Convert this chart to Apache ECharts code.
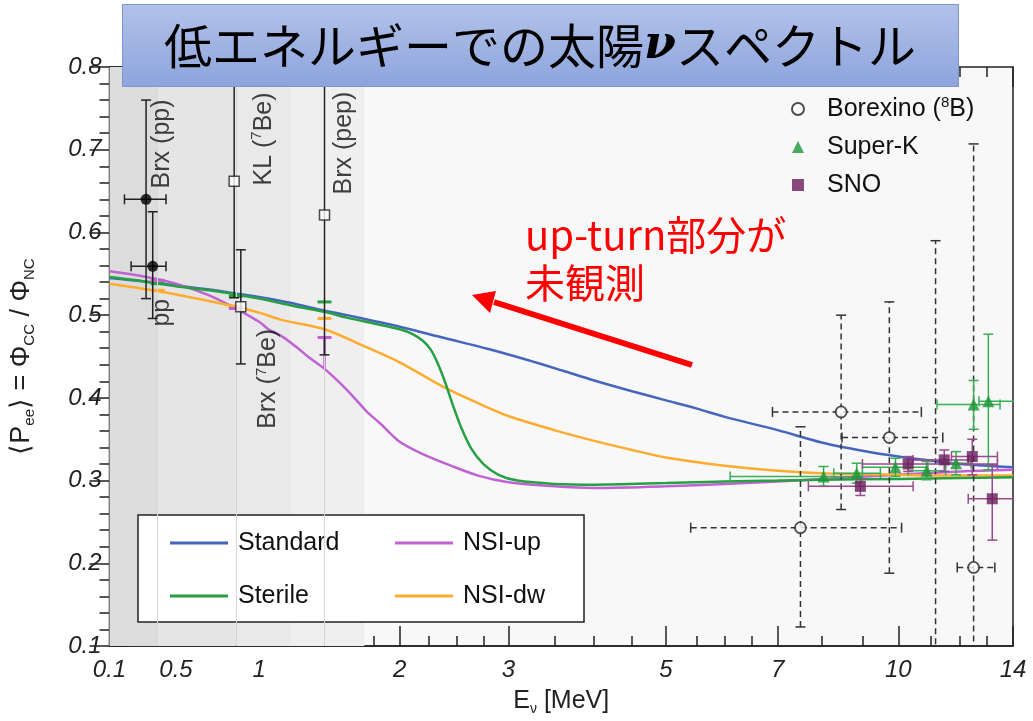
<!DOCTYPE html>
<html>
<head>
<meta charset="utf-8">
<script src="https://cdn.jsdelivr.net/npm/echarts@6/dist/echarts.min.js"></script>
<style>
  html, body { margin: 0; padding: 0; background: #fff; }
  #chart { width: 1033px; height: 721px; }
</style>
</head>
<body>
<div id="chart"></div>
<script>
// ---------------------------------------------------------------------------
// Energy axis: linear below 1 MeV, compressed above (knots of the warped scale)
const axisKnotE = [0.1, 1, 1.2, 1.4, 1.6, 1.8, 2, 2.25, 2.5, 2.75, 3, 3.5, 4, 4.5, 5,
                   5.5, 6, 6.5, 7, 8, 9, 10, 11, 12, 13, 14];
const axisKnotU = [0, 150, 181, 210, 238, 265, 291, 320, 348, 375, 400, 446, 486, 524, 558,
                   589, 617, 644, 670, 714, 755, 791, 824, 853, 880, 906];

// tick labels / tick energies
const majorTickE = [0.1, 0.5, 1, 2, 3, 5, 7, 10, 14];
const majorTickLabels = ['0.1', '0.5', '1', '2', '3', '5', '7', '10', '14'];
const minorTickE = [0.2, 0.3, 0.4, 0.6, 0.7, 0.8, 0.9, 1.2, 1.4, 1.6, 1.8, 2.25, 2.5, 2.75,
                    3.5, 4, 4.5, 5.5, 6, 6.5, 8, 9, 11, 12, 13];

// ---------------------------------------------------------------------------
// Model curves: survival probability vs neutrino energy (MeV)
const standardE = [0.1, 0.3, 0.5, 0.7, 0.9, 1.0, 1.2, 1.4, 1.6, 1.8, 2.0, 2.4, 2.8, 3.2, 3.6, 4.0,
                   4.5, 5, 5.5, 6, 7, 8, 9, 10, 11, 12, 13, 14];
const standardP = [0.545, 0.541, 0.536, 0.531, 0.525, 0.522, 0.515, 0.507, 0.500, 0.493, 0.486, 0.472,
                   0.459, 0.446, 0.433, 0.421, 0.408, 0.397, 0.387, 0.377, 0.361, 0.346, 0.336, 0.329,
                   0.324, 0.320, 0.318, 0.316];

const sterileE = [0.1, 0.3, 0.5, 0.7, 0.86, 1.0, 1.2, 1.44, 1.6, 1.8, 2.0, 2.1, 2.2, 2.27, 2.33, 2.4,
                  2.47, 2.55, 2.64, 2.75, 2.9, 3.1, 3.5, 4, 5, 6, 7, 8, 10, 12, 14];
const sterileP = [0.546, 0.541, 0.535, 0.530, 0.525, 0.520, 0.512, 0.504, 0.497, 0.490, 0.483, 0.478,
                  0.469, 0.458, 0.442, 0.418, 0.390, 0.362, 0.338, 0.320, 0.307, 0.300, 0.296, 0.295,
                  0.297, 0.299, 0.300, 0.301, 0.302, 0.303, 0.304];

const nsiUpE = [0.1, 0.3, 0.5, 0.7, 0.86, 1.0, 1.06, 1.15, 1.24, 1.33, 1.44, 1.55, 1.65, 1.75, 1.85,
                2.0, 2.2, 2.45, 2.7, 3.0, 3.5, 4, 5, 6, 7, 8, 10, 12, 14];
const nsiUpP = [0.553, 0.547, 0.538, 0.524, 0.508, 0.492, 0.483, 0.474, 0.462, 0.449, 0.435, 0.418,
                0.401, 0.383, 0.369, 0.347, 0.332, 0.318, 0.306, 0.298, 0.293, 0.291, 0.293, 0.296,
                0.299, 0.302, 0.307, 0.311, 0.313];

const nsiDwE = [0.1, 0.36, 0.6, 0.84, 1.0, 1.15, 1.44, 1.75, 2.0, 2.4, 2.8, 3.0, 3.5, 4, 4.5, 5, 6,
                7, 8, 10, 12, 14];
const nsiDwP = [0.538, 0.530, 0.521, 0.511, 0.503, 0.494, 0.483, 0.461, 0.443, 0.412, 0.388, 0.378,
                0.361, 0.348, 0.337, 0.328, 0.318, 0.312, 0.309, 0.307, 0.306, 0.306];

// Model predictions averaged over pp / 7Be / pep lines: [E, P, P at curve]
const sterileAvg = [[0.39, 0.538, null], [0.86, 0.523, null], [1.44, 0.516, null]];
const nsiUpAvg   = [[0.39, 0.542, null], [0.86, 0.508, null], [1.44, 0.473, 0.435]];
const nsiDwAvg   = [[0.39, 0.530, null], [0.86, 0.511, null], [1.44, 0.496, null]];

// ---------------------------------------------------------------------------
// Measurements: [E, P, E_low, E_high, P_low, P_high]
const ppPoints = [
  [0.32, 0.640, 0.19, 0.44, 0.520, 0.760],
  [0.36, 0.559, 0.23, 0.44, 0.496, 0.625]
];
const lineSourcePoints = [
  [0.85, 0.662, null, null, 0.521, 0.84],   // KamLAND 7Be
  [0.89, 0.510, null, null, 0.441, 0.579],  // Borexino 7Be
  [1.44, 0.621, null, null, 0.452, 0.84]    // Borexino pep
];
const borexino8B = [
  [7.52, 0.243, 5.4, 10.1, 0.123, 0.365],
  [8.48, 0.383, 6.9, 10.7, 0.265, 0.500],
  [9.75, 0.352, 8.5, 11.4, 0.188, 0.516],
  [11.15, 0.02, null, null, -0.2, 0.590],
  [12.5, 0.195, 11.9, 13.3, -0.1, 0.707]
];
const superK = [
  [8.05, 0.305, 6.1, 9.0, 0.293, 0.317],
  [8.86, 0.309, 8.3, 9.5, 0.297, 0.321],
  [9.92, 0.316, 9.0, 10.9, 0.305, 0.327],
  [10.86, 0.312, 10.3, 11.5, 0.301, 0.323],
  [11.86, 0.321, 11.5, 12.4, 0.307, 0.335],
  [12.5, 0.392, 11.2, 13.5, 0.362, 0.421],
  [13.05, 0.396, 12.7, 14.5, 0.313, 0.477]
];
const sno = [
  [8.95, 0.293, 7.7, 10.45, 0.282, 0.302],
  [10.3, 0.320, 9.0, 13.4, 0.311, 0.329],
  [11.45, 0.325, 10.45, 12.3, 0.311, 0.337],
  [12.45, 0.329, 11.7, 13.4, 0.307, 0.350],
  [13.2, 0.278, 12.3, 14.5, 0.228, 0.319]
];

// Energy windows of the low-energy measurements (shaded bands)
const bandEdgesE = [0.1, 0.39, 0.86, 1.2, 1.73];

// ---------------------------------------------------------------------------
function toAxis(E) {
  const ke = axisKnotE, ku = axisKnotU, n = ke.length - 1;
  if (E <= ke[0]) return ku[0] + (E - ke[0]) * (ku[1] - ku[0]) / (ke[1] - ke[0]);
  for (let i = 1; i <= n; i++) {
    if (E <= ke[i]) {
      const t = (E - ke[i - 1]) / (ke[i] - ke[i - 1]);
      return ku[i - 1] + t * (ku[i] - ku[i - 1]);
    }
  }
  return ku[n] + (E - ke[n]) * (ku[n] - ku[n - 1]) / (ke[n] - ke[n - 1]);
}
const axisMax = toAxis(14);
const curve = (es, ps) => es.map((e, i) => [toAxis(e), ps[i]]);
const ax = v => (v == null ? NaN : toAxis(v));
const errData = arr => arr.map(r => [toAxis(r[0]), r[1], ax(r[2]), ax(r[3]),
                                     r[4] == null ? NaN : r[4], r[5] == null ? NaN : r[5]]);

const SANS = '"Liberation Sans", Arial, Helvetica, sans-serif';
const JP = '"Noto Sans CJK JP", "Noto Sans", sans-serif';

const C_STD = '#4565bf', C_STE = '#27a043', C_UP = '#c062d2', C_DW = '#ffab2e';
const C_SK = '#1a9636', C_SK_ERR = '#3aae55', C_SNO = '#6a1d5c', C_SNO_ERR = '#9a4a8d';

function errorBars(color, dashed, cap) {
  return function (params, api) {
    const x = api.value(0), y = api.value(1);
    const xl = api.value(2), xh = api.value(3), yl = api.value(4), yh = api.value(5);
    const line = { stroke: color, lineWidth: 1.5, lineDash: dashed ? [6, 4] : null };
    const capStyle = { stroke: color, lineWidth: 1.5 };
    const kids = [];
    const seg = (a, b, s) => kids.push({ type: 'line', shape: { x1: a[0], y1: a[1], x2: b[0], y2: b[1] }, style: s });
    if (!isNaN(yl) && !isNaN(yh)) {
      const pl = api.coord([x, yl]), ph = api.coord([x, yh]);
      seg(pl, ph, line);
      seg([pl[0] - cap, pl[1]], [pl[0] + cap, pl[1]], capStyle);
      seg([ph[0] - cap, ph[1]], [ph[0] + cap, ph[1]], capStyle);
    }
    if (!isNaN(xl) && !isNaN(xh)) {
      const pl = api.coord([xl, y]), ph = api.coord([xh, y]);
      seg(pl, ph, line);
      seg([pl[0], pl[1] - cap], [pl[0], pl[1] + cap], capStyle);
      seg([ph[0], ph[1] - cap], [ph[0], ph[1] + cap], capStyle);
    }
    return { type: 'group', children: kids };
  };
}

function avgMarks(color) {
  return function (params, api) {
    const p = api.coord([api.value(0), api.value(1)]);
    const kids = [{ type: 'line', shape: { x1: p[0] - 7, y1: p[1], x2: p[0] + 7, y2: p[1] },
                    style: { stroke: color, lineWidth: 3 } }];
    const end = api.value(2);
    if (!isNaN(end)) {
      const q = api.coord([api.value(0), end]);
      kids.push({ type: 'line', shape: { x1: p[0], y1: p[1], x2: q[0], y2: q[1] },
                  style: { stroke: color, lineWidth: 2.5 } });
    }
    return { type: 'group', children: kids };
  };
}
const avgData = arr => arr.map(r => [toAxis(r[0]), r[1], r[2] == null ? NaN : r[2]]);

// rotated text labels next to the low-energy points: [E, P, text]
const sideLabels = [
  [0.418, 0.707, '{a|Brx (pp)}'],
  [0.418, 0.503, '{a|pp}'],
  [1.03, 0.713, '{a|KL (}{sup|7}{a|Be)}'],
  [1.06, 0.423, '{a|Brx (}{sup|7}{a|Be)}'],
  [1.58, 0.708, '{a|Brx (pep)}']
];

const labelTicks = {};
majorTickE.forEach((e, i) => { labelTicks[toAxis(e).toFixed(3)] = majorTickLabels[i]; });

const bandColors = ['#dcdcdc', '#e5e5e5', '#e9e9e9', '#efefef'];
const bands = [];
for (let i = 0; i < bandEdgesE.length - 1; i++) {
  bands.push([{ xAxis: toAxis(bandEdgesE[i]), itemStyle: { color: bandColors[i] } },
              { xAxis: toAxis(bandEdgesE[i + 1]) }]);
}

const TICK = { color: '#222', width: 1.5 };
const baseX = {
  type: 'value', min: 0, max: axisMax,
  splitLine: { show: false }, axisLine: { show: false }
};
const baseY = {
  type: 'value', min: 0.1, max: 0.8,
  splitLine: { show: false }, axisLine: { show: false }, axisLabel: { show: false }
};

const option = {
  animation: false,
  backgroundColor: '#ffffff',
  grid: { left: 107, right: 20, top: 67, bottom: 68, show: true,
          backgroundColor: '#f8f8f8', borderColor: '#222', borderWidth: 1.5 },
  xAxis: [
    Object.assign({}, baseX, {
      position: 'bottom',
      axisLine: { show: true, lineStyle: TICK },
      axisTick: { show: true, inside: true, length: 20, lineStyle: TICK,
                  customValues: majorTickE.map(toAxis) },
      axisLabel: { show: true, customValues: majorTickE.map(toAxis), margin: 12,
                   fontFamily: SANS, fontSize: 24, fontStyle: 'italic', color: '#222',
                   formatter: v => labelTicks[Number(v).toFixed(3)] || '' },
      name: '{a|E}{sub|ν}{a| [MeV]}', nameLocation: 'middle', nameGap: 40,
      nameTextStyle: { fontFamily: SANS, color: '#222',
        rich: { a: { fontSize: 25, lineHeight: 30, fontFamily: SANS, color: '#222' },
                sub: { fontSize: 14, lineHeight: 14, verticalAlign: 'bottom', fontFamily: SANS, color: '#222' } } }
    }),
    Object.assign({}, baseX, {
      position: 'bottom',
      axisTick: { show: true, inside: true, length: 10, lineStyle: TICK, customValues: minorTickE.map(toAxis) },
      axisLabel: { show: false }
    }),
    Object.assign({}, baseX, {
      position: 'top',
      axisTick: { show: true, inside: true, length: 20, lineStyle: TICK, customValues: majorTickE.map(toAxis) },
      axisLabel: { show: false }
    }),
    Object.assign({}, baseX, {
      position: 'top',
      axisTick: { show: true, inside: true, length: 10, lineStyle: TICK, customValues: minorTickE.map(toAxis) },
      axisLabel: { show: false }
    })
  ],
  yAxis: [
    {
      type: 'value', min: 0.1, max: 0.8, interval: 0.1, position: 'left',
      splitLine: { show: false },
      axisLine: { show: true, lineStyle: TICK },
      axisTick: { show: true, inside: true, length: 20, lineStyle: TICK },
      axisLabel: { fontFamily: SANS, fontSize: 24, fontStyle: 'italic', color: '#222', margin: 8,
                   formatter: v => v.toFixed(1) },
      name: '{a|⟨P}{sub|ee}{a|⟩ = Φ}{sub|CC}{a| / Φ}{sub|NC}',
      nameLocation: 'middle', nameGap: 72, nameRotate: 90,
      nameTextStyle: { fontFamily: SANS, color: '#222',
        rich: { a: { fontSize: 27, lineHeight: 32, fontFamily: SANS, color: '#222' },
                sub: { fontSize: 15, lineHeight: 15, verticalAlign: 'bottom', fontFamily: SANS, color: '#222' } } }
    },
    Object.assign({}, baseY, { position: 'left', interval: 0.02,
      axisTick: { show: true, inside: true, length: 10, lineStyle: TICK } }),
    Object.assign({}, baseY, { position: 'right', interval: 0.1,
      axisTick: { show: true, inside: true, length: 20, lineStyle: TICK } }),
    Object.assign({}, baseY, { position: 'right', interval: 0.02,
      axisTick: { show: true, inside: true, length: 10, lineStyle: TICK } })
  ],
  legend: [
    {
      orient: 'vertical', left: 138, top: 515, height: 90,
      padding: [13, 36, 11, 32], itemGap: 23,
      backgroundColor: '#ffffff', borderColor: '#222', borderWidth: 1.5,
      icon: 'rect', itemWidth: 58, itemHeight: 3, selectedMode: false,
      textStyle: { fontFamily: SANS, fontSize: 25, color: '#111', lineHeight: 30, padding: [0, 0, 0, 5] },
      data: [
        { name: 'Standard', textStyle: { width: 134 } },
        { name: 'Sterile', textStyle: { width: 134 } },
        { name: 'NSI-up', textStyle: { width: 85 } },
        { name: 'NSI-dw', textStyle: { width: 85 } }
      ]
    },
    {
      orient: 'vertical', left: 786, top: 90, itemGap: 10,
      itemWidth: 12, itemHeight: 12, selectedMode: false,
      textStyle: { fontFamily: SANS, fontSize: 25, color: '#111', lineHeight: 28, padding: [0, 0, 0, 18],
                   rich: { sup: { fontSize: 15, lineHeight: 12, verticalAlign: 'top', fontFamily: SANS, color: '#111' } } },
      formatter: n => (n === 'Borexino (8B)' ? 'Borexino ({sup|8}B)' : n),
      data: ['Borexino (8B)', 'Super-K', 'SNO']
    }
  ],
  graphic: [
    { type: 'rect', left: 122, top: 4, z: 100,
      shape: { width: 836, height: 82 },
      style: { fill: new echarts.graphic.LinearGradient(0, 0, 0, 1, [
                 { offset: 0, color: '#b2c2e9' }, { offset: 1, color: '#8da4dc' }]),
               stroke: '#7a95d2', lineWidth: 1 } },
    { type: 'text', x: 540, y: 46, z: 101,
      style: { text: '{a|低エネルギーでの太陽}{b|ν}{a|スペクトル}', align: 'center', verticalAlign: 'middle',
               rich: { a: { fontFamily: JP, fontSize: 48, fill: '#000' },
                       b: { fontFamily: 'DejaVu Serif', fontSize: 46, fontWeight: 'bold', fontStyle: 'italic', fill: '#000' } } } },
    { type: 'line', z: 100, shape: { x1: 692, y1: 365, x2: 494, y2: 302 },
      style: { stroke: '#ff0000', lineWidth: 6 } },
    { type: 'polygon', z: 100, shape: { points: [[472, 295], [496, 291], [490, 313]] },
      style: { fill: '#ff0000' } },
    { type: 'text', x: 525, y: 211, z: 100,
      style: { text: 'up-turn部分が\n未観測', fill: '#ff0000', fontFamily: JP, fontSize: 40, lineHeight: 48 } }
  ],
  series: [
    { // shaded energy windows
      type: 'line', data: [], silent: true, z: 0,
      markArea: { silent: true, data: bands },
      markLine: { silent: true, symbol: 'none', label: { show: false },
                  lineStyle: { color: '#d6d6d6', width: 1, type: 'solid' },
                  data: [{ xAxis: toAxis(0.39) }, { xAxis: toAxis(0.86) }, { xAxis: toAxis(1.44) }] }
    },
    { name: 'Standard', type: 'line', data: curve(standardE, standardP), showSymbol: false, symbol: 'none',
      smooth: 0.3, lineStyle: { color: C_STD, width: 2.5 }, itemStyle: { color: C_STD }, z: 3 },
    { name: 'NSI-up', type: 'line', data: curve(nsiUpE, nsiUpP), showSymbol: false, symbol: 'none',
      smooth: 0.3, lineStyle: { color: C_UP, width: 2.5 }, itemStyle: { color: C_UP }, z: 3 },
    { name: 'NSI-dw', type: 'line', data: curve(nsiDwE, nsiDwP), showSymbol: false, symbol: 'none',
      smooth: 0.3, lineStyle: { color: C_DW, width: 2.5 }, itemStyle: { color: C_DW }, z: 3 },
    { name: 'Sterile', type: 'line', data: curve(sterileE, sterileP), showSymbol: false, symbol: 'none',
      smooth: 0.3, lineStyle: { color: C_STE, width: 2.5 }, itemStyle: { color: C_STE }, z: 3 },

    { type: 'custom', renderItem: avgMarks(C_STE), data: avgData(sterileAvg), z: 4, silent: true },
    { type: 'custom', renderItem: avgMarks(C_DW), data: avgData(nsiDwAvg), z: 4, silent: true },
    { type: 'custom', renderItem: avgMarks(C_UP), data: avgData(nsiUpAvg), z: 4, silent: true },

    { type: 'custom', renderItem: errorBars('#222', false, 5), data: errData(ppPoints), clip: true, z: 5, silent: true },
    { type: 'custom', renderItem: errorBars('#222', false, 5), data: errData(lineSourcePoints), clip: true, z: 5, silent: true },
    { type: 'custom', renderItem: errorBars('#333', true, 5), data: errData(borexino8B), clip: true, z: 5, silent: true },
    { type: 'custom', renderItem: errorBars(C_SK_ERR, false, 5), data: errData(superK), clip: true, z: 5, silent: true },
    { type: 'custom', renderItem: errorBars(C_SNO_ERR, false, 5), data: errData(sno), clip: true, z: 5, silent: true },

    { type: 'scatter', data: errData(ppPoints).map(r => [r[0], r[1]]), symbol: 'circle', symbolSize: 11,
      itemStyle: { color: '#000' }, z: 6, silent: true },
    { type: 'scatter', data: errData(lineSourcePoints).map(r => [r[0], r[1]]), symbol: 'rect', symbolSize: 10,
      itemStyle: { color: '#fff', borderColor: '#222', borderWidth: 1.5 }, z: 6, silent: true },
    { name: 'Borexino (8B)', type: 'scatter', data: errData(borexino8B).map(r => [r[0], r[1]]),
      symbol: 'circle', symbolSize: 11, clip: true,
      itemStyle: { color: '#fff', borderColor: '#222', borderWidth: 1.8 }, z: 6, silent: true },
    { name: 'Super-K', type: 'scatter', data: errData(superK).map(r => [r[0], r[1]]),
      symbol: 'triangle', symbolSize: 12, itemStyle: { color: C_SK }, z: 6, silent: true },
    { name: 'SNO', type: 'scatter', data: errData(sno).map(r => [r[0], r[1]]),
      symbol: 'rect', symbolSize: 11, itemStyle: { color: C_SNO }, z: 6, silent: true },

    { // rotated experiment labels
      type: 'scatter', symbolSize: 0, silent: true, z: 7,
      data: sideLabels.map(r => [toAxis(r[0]), r[1], r[2]]),
      label: { show: true, position: 'inside', rotate: 90, formatter: p => p.data[2],
               rich: { a: { fontFamily: SANS, fontSize: 25, color: '#111', lineHeight: 28 },
                       sup: { fontFamily: SANS, fontSize: 15, color: '#111', lineHeight: 12, verticalAlign: 'top' } } }
    }
  ]
};

const chart = echarts.init(document.getElementById('chart'), null, { renderer: 'canvas' });
chart.setOption(option);
</script>
</body>
</html>
